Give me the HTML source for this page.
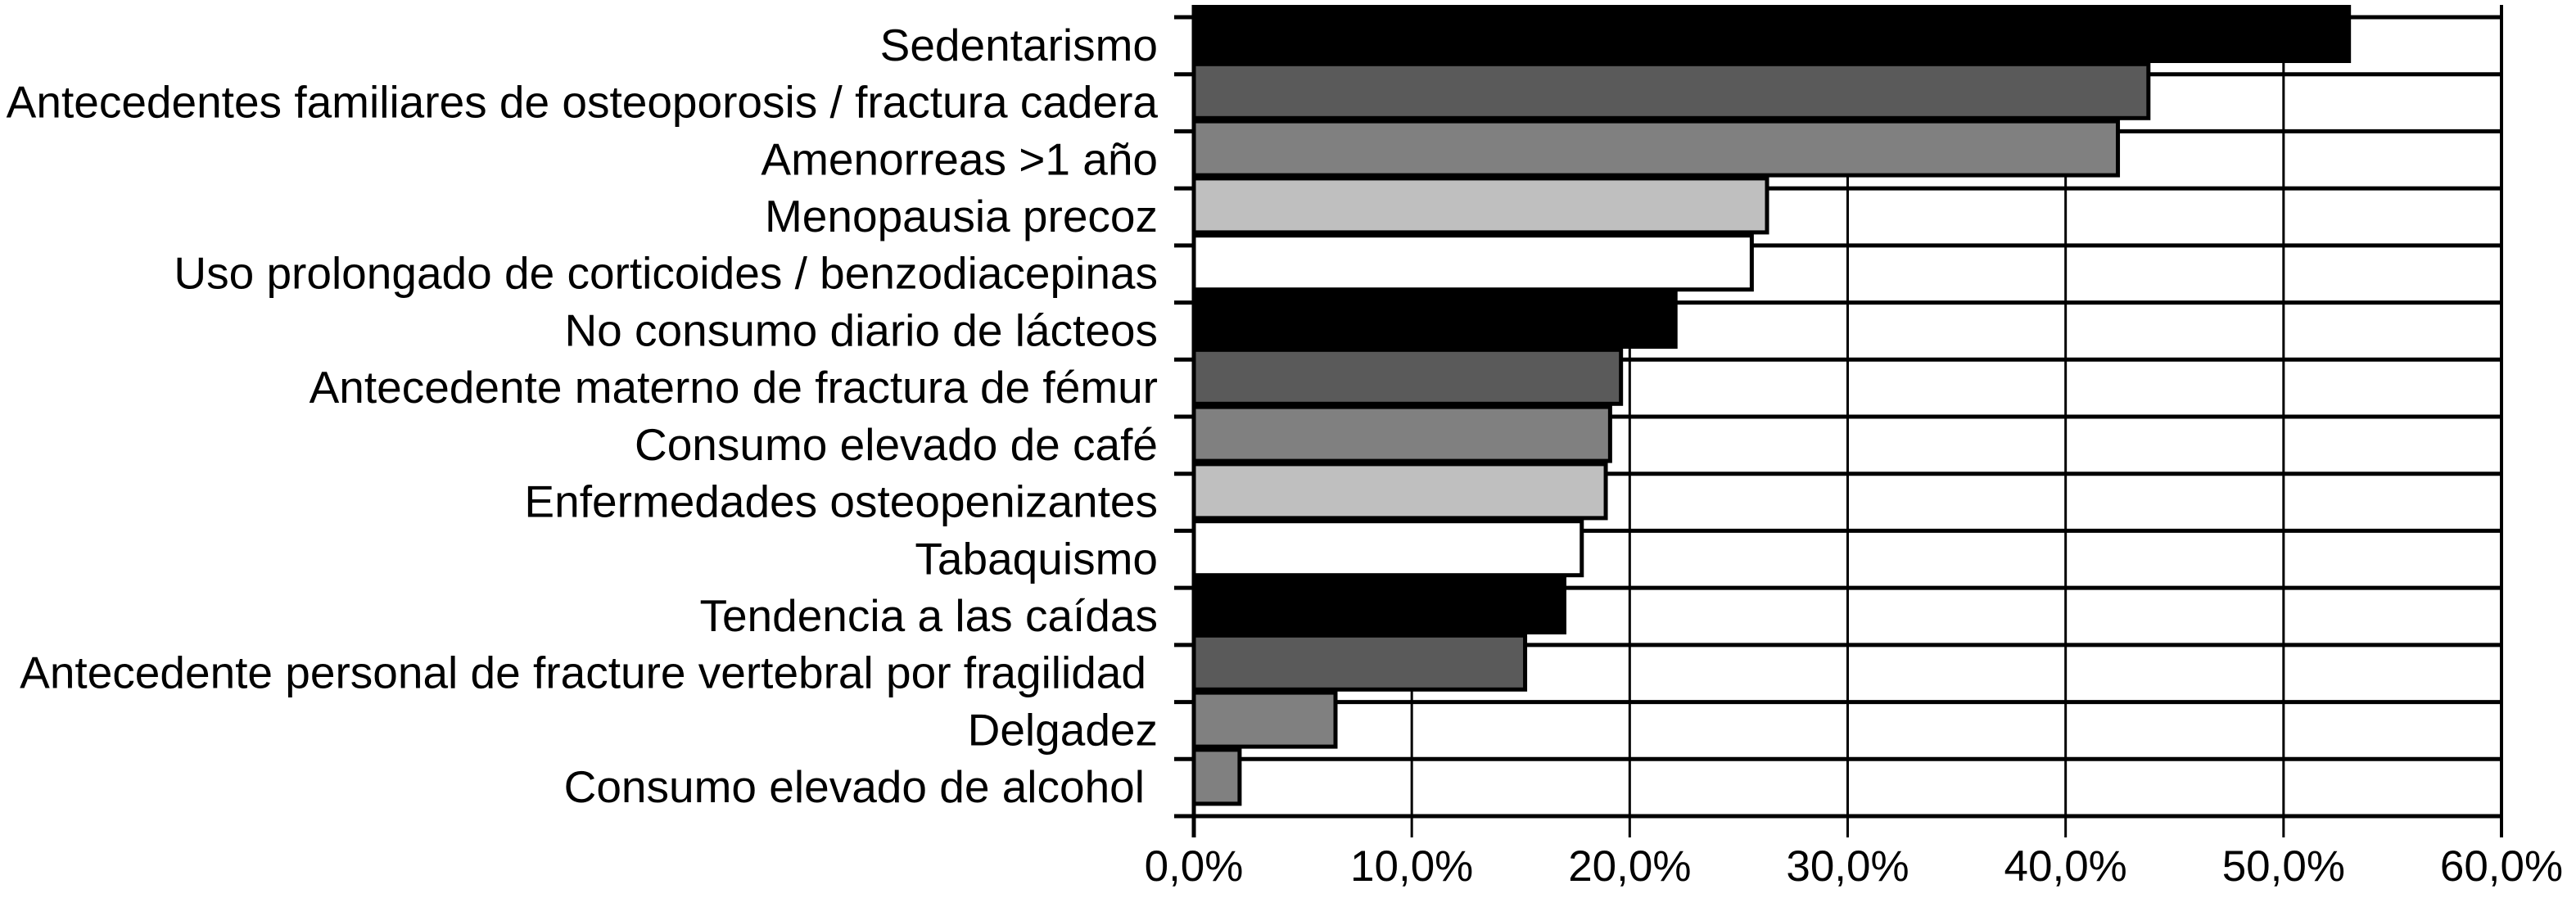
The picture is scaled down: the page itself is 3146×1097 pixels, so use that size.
<!DOCTYPE html>
<html><head><meta charset="utf-8"><style>
html,body{margin:0;padding:0;background:#fff;}
svg{display:block;}
text{font-family:"Liberation Sans",Arial,sans-serif;fill:#000;}
</style></head><body>
<svg id="chart" width="3146" height="1097" viewBox="0 0 3146 1097" xmlns="http://www.w3.org/2000/svg"></svg>
<script>
const categories = ["Sedentarismo","Antecedentes familiares de osteoporosis / fractura cadera","Amenorreas >1 año","Menopausia precoz","Uso prolongado de corticoides / benzodiacepinas","No consumo diario de lácteos","Antecedente materno de fractura de fémur","Consumo elevado de café","Enfermedades osteopenizantes","Tabaquismo","Tendencia a las caídas","Antecedente personal de fracture vertebral por fragilidad","Delgadez","Consumo elevado de alcohol"];
const values = [53.0,43.8,42.4,26.3,25.6,22.1,19.6,19.1,18.9,17.8,17.0,15.2,6.5,2.1];
const tickValues = [0,10,20,30,40,50,60];
const tickLabels = ["0,0%","10,0%","20,0%","30,0%","40,0%","50,0%","60,0%"];
const colors = ["#000000","#5a5a5a","#808080","#bfbfbf","#ffffff","#000000","#5a5a5a","#808080","#bfbfbf","#ffffff","#000000","#5a5a5a","#808080","#808080"];
const labelShift = [0,0,0,0,0,0,0,0,0,0,0,14,0,16];

const NS="http://www.w3.org/2000/svg";
const svg=document.getElementById('chart');
const X0=1458, X1=3055, gridTop=21, gridBot=997;
const n=categories.length;
const step=(gridBot-gridTop)/n;
const x=v=>X0+(v/60)*(X1-X0);
const barTop=i=>6+i*69.8;
function mk(tag,attrs){const e=document.createElementNS(NS,tag);for(const k in attrs)e.setAttribute(k,attrs[k]);svg.appendChild(e);return e;}

tickValues.forEach((t,i)=>{
  const l=mk('line',{x1:x(t),x2:x(t),y1:6,y2:gridBot+26,stroke:'#000','stroke-width':i===0||i===tickValues.length-1?4:3});
  
  
  const tx=mk('text',{x:x(t),y:1076,'text-anchor':'middle','font-size':53});
  tx.textContent=tickLabels[i];
  
  
});
for(let k=0;k<=n;k++){
  const y=gridTop+k*step;
  const l=mk('line',{x1:1434,x2:X1,y1:y,y2:y,stroke:'#000','stroke-width':5});
  
  
}
values.forEach((v,i)=>{
  const r=mk('rect',{x:X0,y:barTop(i)+2.5,width:x(v)-X0,height:66,fill:colors[i],stroke:'#000','stroke-width':5});
  
  
});
categories.forEach((c,i)=>{
  const y=gridTop+(i+0.5)*step+18;
  const t=mk('text',{x:1414-labelShift[i],y:y,'text-anchor':'end','font-size':55});
  t.textContent=c;
  
  
});
const ax=mk('line',{x1:X0,x2:X0,y1:6,y2:gridBot+26,stroke:'#000','stroke-width':5});


</script>
</body></html>
